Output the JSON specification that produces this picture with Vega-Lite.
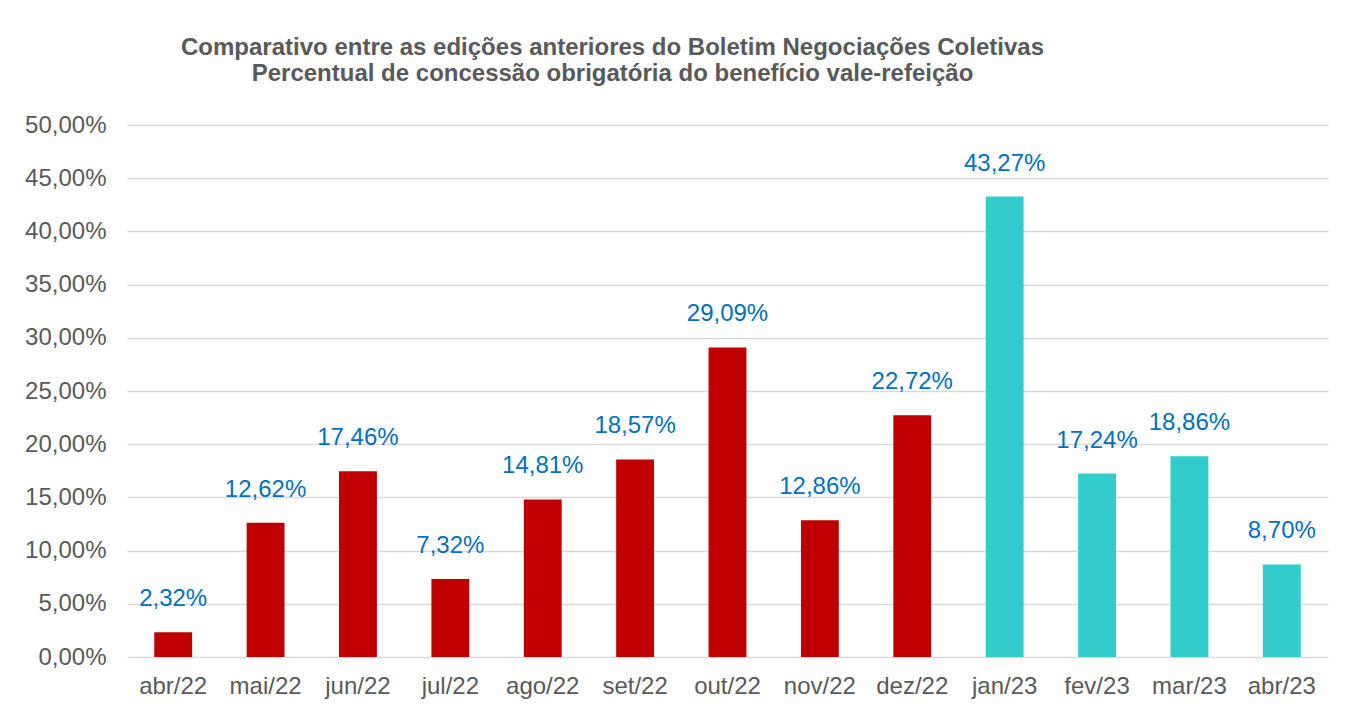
{
  "$schema": "https://vega.github.io/schema/vega-lite/v6.json",
  "width": 1201,
  "height": 532,
  "autosize": "none",
  "padding": {"left": 127, "top": 125, "right": 18, "bottom": 49},
  "background": "white",
  "title": {
    "text": ["Comparativo entre as edições anteriores do Boletim Negociações Coletivas", "Percentual de concessão obrigatória do benefício vale-refeição"],
    "font": "Liberation Sans",
    "fontSize": 24,
    "fontWeight": "bold",
    "color": "#595959",
    "anchor": "middle",
    "frame": "group",
    "dx": -115,
    "offset": 27,
    "lineHeight": 26
  },
  "data": {
    "values": [
      {"mes": "abr/22", "valor": 0.0232, "grupo": "2022"},
      {"mes": "mai/22", "valor": 0.1262, "grupo": "2022"},
      {"mes": "jun/22", "valor": 0.1746, "grupo": "2022"},
      {"mes": "jul/22", "valor": 0.0732, "grupo": "2022"},
      {"mes": "ago/22", "valor": 0.1481, "grupo": "2022"},
      {"mes": "set/22", "valor": 0.1857, "grupo": "2022"},
      {"mes": "out/22", "valor": 0.2909, "grupo": "2022"},
      {"mes": "nov/22", "valor": 0.1286, "grupo": "2022"},
      {"mes": "dez/22", "valor": 0.2272, "grupo": "2022"},
      {"mes": "jan/23", "valor": 0.4327, "grupo": "2023"},
      {"mes": "fev/23", "valor": 0.1724, "grupo": "2023"},
      {"mes": "mar/23", "valor": 0.1886, "grupo": "2023"},
      {"mes": "abr/23", "valor": 0.0870, "grupo": "2023"}
    ]
  },
  "config": {
    "locale": {"number": {"decimal": ",", "thousands": ".", "grouping": [3], "currency": ["R$", ""]}},
    "view": {"stroke": null},
    "axis": {"labelFont": "Liberation Sans", "labelFontSize": 24, "labelColor": "#595959", "domain": false, "ticks": false, "title": null, "labelOverlap": false}
  },
  "encoding": {
    "x": {
      "field": "mes", "type": "nominal", "sort": null,
      "scale": {"paddingInner": 0.59, "paddingOuter": 0.295},
      "axis": {"labelAngle": 0, "labelPadding": 17, "grid": false}
    },
    "y": {
      "field": "valor", "type": "quantitative",
      "scale": {"domain": [0, 0.5], "nice": false},
      "axis": {"format": ".2%", "values": [0, 0.05, 0.1, 0.15, 0.2, 0.25, 0.3, 0.35, 0.4, 0.45, 0.5], "labelPadding": 21, "grid": true, "gridColor": "#D9D9D9", "gridWidth": 1.5}
    }
  },
  "layer": [
    {
      "mark": {"type": "bar"},
      "encoding": {
        "color": {"field": "grupo", "type": "nominal", "scale": {"domain": ["2022", "2023"], "range": ["#C00000", "#33CCCC"]}, "legend": null}
      }
    },
    {
      "mark": {"type": "text", "baseline": "middle", "dy": -33, "font": "Liberation Sans", "fontSize": 24, "color": "#0070C0"},
      "encoding": {
        "text": {"field": "valor", "type": "quantitative", "format": ".2%"}
      }
    }
  ]
}
